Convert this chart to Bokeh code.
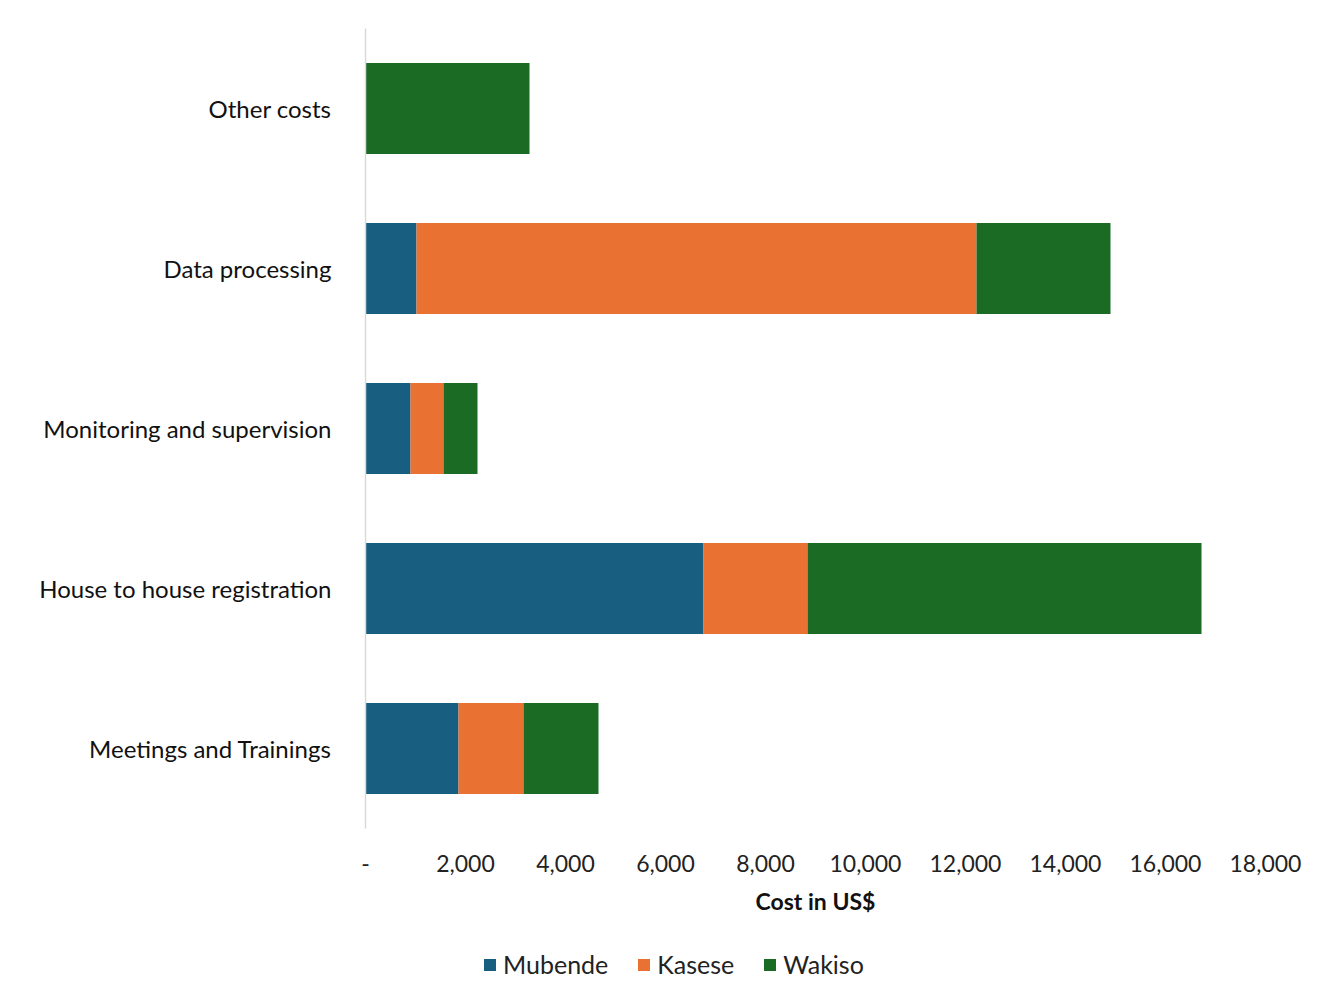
from bokeh.plotting import figure
from bokeh.layouts import column
from bokeh.models import FactorRange, Range1d, Legend, LegendItem
from bokeh.embed import file_html
from bokeh.resources import INLINE

categories = ["Meetings and Trainings", "House to house registration",
              "Monitoring and supervision", "Data processing", "Other costs"]
series = ["Mubende", "Kasese", "Wakiso"]
mubende = [1860, 6760, 900, 1020, 0]
kasese = [1300, 2080, 660, 11200, 0]
wakiso = [1500, 7880, 680, 2680, 3280]
colors = ["#175e81", "#e97132", "#1b6b25"]
x_ticks = [0, 2000, 4000, 6000, 8000, 10000, 12000, 14000, 16000, 18000]

FONT = "Lato"

p = figure(frame_width=900, frame_height=800, output_backend="svg", toolbar_location=None,
           y_range=FactorRange(*categories, range_padding=0), x_range=Range1d(0, 18000),
           min_border_left=365, min_border_right=50, min_border_top=28, min_border_bottom=0)

data = {"cat": categories, "Mubende": mubende, "Kasese": kasese, "Wakiso": wakiso}
rs = p.hbar_stack(series, y="cat", height=0.57, color=colors, source=data, line_width=0)

p.xgrid.visible = False
p.ygrid.visible = False
p.outline_line_color = None

p.xaxis.ticker = x_ticks
p.xaxis.major_label_overrides = {t: ("-" if t == 0 else f"{t:,}") for t in x_ticks}
p.xaxis.axis_line_color = None
p.xaxis.major_tick_line_color = None
p.xaxis.minor_tick_line_color = None
p.xaxis.major_label_text_font = FONT
p.xaxis.major_label_text_font_size = "23px"
p.xaxis.major_label_text_color = "#222222"
p.xaxis.major_label_standoff = 20
p.xaxis.axis_label = "Cost in US$"
p.xaxis.axis_label_text_font = FONT
p.xaxis.axis_label_text_font_style = "bold"
p.xaxis.axis_label_text_font_size = "23px"
p.xaxis.axis_label_text_color = "#111111"
p.xaxis.axis_label_standoff = 12

p.yaxis.axis_line_color = "#d9d9d9"
p.yaxis.axis_line_width = 1.5
p.yaxis.major_tick_line_color = None
p.yaxis.minor_tick_line_color = None
p.yaxis.major_label_text_font = FONT
p.yaxis.major_label_text_font_size = "24px"
p.yaxis.major_label_text_color = "#111111"
p.yaxis.major_label_standoff = 28

# legend strip below the chart (proxy glyphs lie outside its visible range)
lp = figure(width=1315, height=70, output_backend="svg", toolbar_location=None,
            x_range=Range1d(0, 1), y_range=Range1d(0, 1), x_axis_type=None, y_axis_type=None,
            min_border=0)
lp.xgrid.visible = False
lp.ygrid.visible = False
lp.outline_line_color = None
lrs = [lp.quad(left=[-3], right=[-2], top=[-2], bottom=[-3], color=c, line_width=0) for c in colors]

legend = Legend(items=[LegendItem(label=s, renderers=[r]) for s, r in zip(series, lrs)],
                orientation="horizontal", location=(117, 8),
                label_text_font=FONT, label_text_font_size="25px", label_text_color="#222222",
                glyph_width=15, glyph_height=15, spacing=28, label_standoff=6,
                border_line_color=None, background_fill_alpha=0, margin=0, padding=0)
lp.add_layout(legend, "center")

layout = column(p, lp, spacing=0)
open("out.html", "w").write(file_html(layout, INLINE))
